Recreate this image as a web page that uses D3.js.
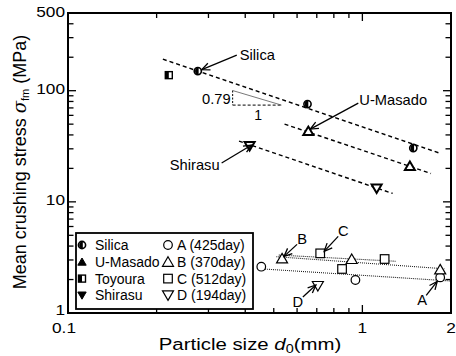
<!DOCTYPE html>
<html><head><meta charset="utf-8">
<script src="https://cdn.jsdelivr.net/npm/d3@7"></script>
<style>
body{margin:0;background:#fff}
svg{display:block}
text{font-family:"Liberation Sans",Arial,sans-serif;fill:#000}
</style>
</head><body>
<svg id="chart" width="456" height="356"></svg>
<script>
// ---- particle crushing data (size in mm, mean crushing stress in MPa) ----
const silicaSize   = [0.276, 0.651, 1.489];
const silicaStress = [150, 75.8, 30.5];
const masadoSize   = [0.655, 1.45];
const masadoStress = [43.3, 21.0];
const toyouraSize   = [0.22];
const toyouraStress = [138];
const shirasuSize   = [0.414, 1.118];
const shirasuStress = [31.8, 13.2];

// weathered samples A-D
const aSize = [0.4535, 0.947, 1.838];
const aStress = [2.61, 1.98, 2.09];
const bSize = [0.5335, 0.920, 1.838];
const bStress = [3.10, 3.06, 2.47];
const cSize = [0.719, 1.19, 0.853];
const cStress = [3.44, 3.06, 2.49];
const dSize = [0.706];
const dStress = [1.75];

// trend lines: [x0, y0, x1, y1]
const silicaFit  = [0.21, 192, 1.824, 27.5];
const masadoFit  = [0.544, 50.1, 1.71, 18.0];
const shirasuFit = [0.381, 35.2, 1.267, 11.9];
const aFit = [0.46, 2.49, 2.0, 1.94];
const bFit = [0.51, 3.21, 1.9, 2.5];
const cFit = [0.52, 3.32, 1.30, 2.92];

// slope triangle (exponent 0.79)
const slopeX = [0.3625, 0.531];
const slopeBaseY = 74.2;
const slopeExp = 0.79;

// axis ticks
const xMajor = [0.1, 1, 2];
const xMajorLabels = ["0.1", "1", "2"];
const xMinor = [0.2, 0.3, 0.4, 0.5, 0.6, 0.7, 0.8, 0.9];
const yMajor = [1, 10, 100, 500];
const yMajorLabels = ["1", "10", "100", "500"];
const yMinor = [2,3,4,5,6,7,8,9,20,30,40,50,60,70,80,90,200,300,400];

// legend entries
const legendLeft  = ["Silica", "U-Masado", "Toyoura", "Shirasu"];
const legendRight = ["A (425day)", "B (370day)", "C (512day)", "D (194day)"];

const svg = d3.select("#chart");
const L = 68, R = 451, T = 13, B = 313;
const x = d3.scaleLog().domain([0.1, 2]).range([L, R]);
const y = d3.scaleLog().domain([1, 500]).range([B, T]);

const TXS = 1.15; // horizontal stretch of the tick/label lettering

function label(g, px, py, str, size, anchor, sx) {
  return g.append("text")
    .attr("transform", `translate(${px},${py}) scale(${sx || 1},1)`)
    .attr("text-anchor", anchor || "start")
    .attr("dominant-baseline", "central")
    .style("font-size", size + "px")
    .text(str);
}

// ---- markers ----
function marker(g, type, cx, cy) {
  const m = g.append("g").attr("transform", `translate(${cx},${cy})`);
  if (type === "halfCircle") {
    m.append("circle").attr("r", 3.6).attr("fill", "#fff").attr("stroke", "#000").attr("stroke-width", 1.6);
    m.append("path").attr("d", "M0.8,-3.6 A3.6,3.6 0 1 0 0.8,3.6 Z").attr("fill", "#000");
  } else if (type === "halfSquare") {
    m.append("rect").attr("x", -3.5).attr("y", -3.5).attr("width", 7).attr("height", 7)
      .attr("fill", "#fff").attr("stroke", "#000").attr("stroke-width", 1.4);
    m.append("rect").attr("x", -3.5).attr("y", -3.5).attr("width", 3.5).attr("height", 7).attr("fill", "#000");
  } else if (type === "triBold") {
    m.append("path").attr("d", "M0,-4.5 L5,4 L-5,4 Z").attr("fill", "#fff").attr("stroke", "#000").attr("stroke-width", 2);
  } else if (type === "triDownBold") {
    m.append("path").attr("d", "M0,4.5 L5,-4 L-5,-4 Z").attr("fill", "#fff").attr("stroke", "#000").attr("stroke-width", 2);
  } else if (type === "triFilled") {
    m.append("path").attr("d", "M0,-3.8 L4.2,3.4 L-4.2,3.4 Z").attr("fill", "#000").attr("stroke", "#000").attr("stroke-width", 1);
  } else if (type === "triDownFilled") {
    m.append("path").attr("d", "M0,3.8 L4.2,-3.4 L-4.2,-3.4 Z").attr("fill", "#000").attr("stroke", "#000").attr("stroke-width", 1);
  } else if (type === "circle") {
    m.append("circle").attr("r", 4.3).attr("fill", "#fff").attr("stroke", "#000").attr("stroke-width", 1.2);
  } else if (type === "square") {
    m.append("rect").attr("x", -4.3).attr("y", -4.3).attr("width", 8.6).attr("height", 8.6)
      .attr("fill", "#fff").attr("stroke", "#000").attr("stroke-width", 1.2);
  } else if (type === "tri") {
    m.append("path").attr("d", "M0,-5 L5.5,4.5 L-5.5,4.5 Z").attr("fill", "#fff").attr("stroke", "#000").attr("stroke-width", 1.2);
  } else if (type === "triDown") {
    m.append("path").attr("d", "M0,5 L5.5,-4.5 L-5.5,-4.5 Z").attr("fill", "#fff").attr("stroke", "#000").attr("stroke-width", 1.2);
  }
}

// ---- trend lines ----
const lines = svg.append("g");
function fitLine(f, dash, w, col) {
  lines.append("line")
    .attr("x1", x(f[0])).attr("y1", y(f[1])).attr("x2", x(f[2])).attr("y2", y(f[3]))
    .attr("stroke", col || "#000").attr("stroke-width", w).attr("stroke-dasharray", dash);
}
fitLine(silicaFit, "4,3", 1.4);
fitLine(masadoFit, "4,3", 1.4);
fitLine(shirasuFit, "4,3", 1.4);
fitLine(aFit, "1,1", 1.1, "#222");
fitLine(bFit, "1,1", 1.1, "#222");
fitLine(cFit, "1,1", 1.1, "#222");

// slope triangle
const sx0 = x(slopeX[0]), sx1 = x(slopeX[1]);
const sTopY = slopeBaseY * Math.pow(slopeX[1] / slopeX[0], slopeExp);
const sy0 = y(slopeBaseY), sy1 = y(sTopY);
lines.append("line").attr("x1", sx0).attr("y1", sy1).attr("x2", sx0).attr("y2", sy0)
  .attr("stroke", "#000").attr("stroke-width", 1).attr("stroke-dasharray", "2,1.5");
lines.append("line").attr("x1", sx0).attr("y1", sy0).attr("x2", sx1).attr("y2", sy0)
  .attr("stroke", "#000").attr("stroke-width", 1).attr("stroke-dasharray", "3,2");
lines.append("line").attr("x1", sx0).attr("y1", sy1).attr("x2", sx1).attr("y2", sy0)
  .attr("stroke", "#555").attr("stroke-width", 0.8);
label(svg, sx0 - 2, (sy0 + sy1) / 2 + 1, slopeExp.toFixed(2), 14, "end", 1.05);
label(svg, (sx0 + sx1) / 2 + 1, sy0 + 10, "1", 14, "middle");

// ---- data points ----
const pts = svg.append("g");
function series(xs, ys, type) { xs.forEach((v, i) => marker(pts, type, x(v), y(ys[i]))); }
series(silicaSize, silicaStress, "halfCircle");
series(masadoSize, masadoStress, "triBold");
series(toyouraSize, toyouraStress, "halfSquare");
series(shirasuSize, shirasuStress, "triDownBold");
series(aSize, aStress, "circle");
series(bSize, bStress, "tri");
series(cSize, cStress, "square");
series(dSize, dStress, "triDown");

// ---- annotations with open arrowheads ----
svg.append("defs").append("marker")
  .attr("id", "ah").attr("viewBox", "-10 -6 12 12").attr("refX", 0).attr("refY", 0)
  .attr("markerWidth", 12).attr("markerHeight", 12).attr("markerUnits", "userSpaceOnUse")
  .attr("orient", "auto")
  .append("path").attr("d", "M-8,-3.5 L0,0 L-8,3.5").attr("fill", "none")
  .attr("stroke", "#000").attr("stroke-width", 1.3);

const ann = svg.append("g");
// point (data), tip offset, tail offset, label offset, text, anchor
function annotate(px, py, tip, tail, lab, str, anchor) {
  const cx = x(px), cy = y(py);
  ann.append("line")
    .attr("x1", cx + tail[0]).attr("y1", cy + tail[1])
    .attr("x2", cx + tip[0]).attr("y2", cy + tip[1])
    .attr("stroke", "#000").attr("stroke-width", 1.3).attr("marker-end", "url(#ah)");
  label(ann, cx + lab[0], cy + lab[1], str, 14, anchor, 1.05);
}
annotate(silicaSize[0], silicaStress[0], [4, -1.5], [39, -16], [42, -16], "Silica", "start");
annotate(masadoSize[0], masadoStress[0], [2, -2], [50, -28], [51, -31], "U-Masado", "start");
annotate(shirasuSize[0], shirasuStress[0], [2, -1], [-28, 17], [-30, 19], "Shirasu", "end");
annotate(bSize[0], bStress[0], [2, -2], [15, -14], [20, -19], "B", "middle");
annotate(cSize[0], cStress[0], [4, -2], [18, -17], [23, -22], "C", "middle");
annotate(dSize[0], dStress[0], [-2, -1], [-15, 11], [-20, 16], "D", "middle");
annotate(aSize[2], aStress[2], [-3, 4], [-14, 18], [-18, 23], "A", "middle");

// ---- frame and ticks (inward) ----
const ax = svg.append("g").attr("stroke", "#000");
ax.append("rect").attr("x", L).attr("y", T).attr("width", R - L).attr("height", B - T)
  .attr("fill", "none").attr("stroke-width", 2);
xMajor.concat(xMinor).forEach(v => {
  const len = (v === 0.1 || v === 1) ? 8 : 5;
  ax.append("line").attr("x1", x(v)).attr("x2", x(v)).attr("y1", B).attr("y2", B - len).attr("stroke-width", 1.3);
  ax.append("line").attr("x1", x(v)).attr("x2", x(v)).attr("y1", T).attr("y2", T + len).attr("stroke-width", 1.3);
});
yMajor.concat(yMinor).forEach(v => {
  const len = (v === 1 || v === 10 || v === 100) ? 8 : 5.5;
  ax.append("line").attr("y1", y(v)).attr("y2", y(v)).attr("x1", L).attr("x2", L + len).attr("stroke-width", 1.3);
  ax.append("line").attr("y1", y(v)).attr("y2", y(v)).attr("x1", R).attr("x2", R - len).attr("stroke-width", 1.3);
});

// tick labels
const tl = svg.append("g");
xMajor.forEach((v, i) => label(tl, x(v) - (i === 0 ? 4 : 0), B + 14, xMajorLabels[i], 15, "middle", TXS));
yMajor.forEach((v, i) => label(tl, L - 3, y(v) - (i === 0 ? 4 : 2), yMajorLabels[i], 15, "end", TXS));

// axis titles
const xt = svg.append("text")
  .attr("transform", `translate(250,350) scale(1.2,1)`)
  .attr("text-anchor", "middle").style("font-size", "17px");
xt.append("tspan").text("Particle size ");
xt.append("tspan").style("font-style", "italic").text("d");
xt.append("tspan").style("font-size", "12px").attr("dy", 3).text("0");
xt.append("tspan").attr("dy", -3).text("(mm)");

const yt = svg.append("text")
  .attr("transform", "translate(26,162) rotate(-90)")
  .attr("text-anchor", "middle").style("font-size", "18px");
yt.append("tspan").text("Mean crushing stress  ");
yt.append("tspan").style("font-style", "italic").style("font-family", "'DejaVu Serif',serif").text("σ");
yt.append("tspan").style("font-size", "11px").attr("dy", 3).text("fm");
yt.append("tspan").attr("dy", -3).text(" (MPa)");

// ---- legend ----
const lg = svg.append("g");
lg.append("rect").attr("x", 76).attr("y", 233).attr("width", 177).attr("height", 76)
  .attr("fill", "#fff").attr("stroke", "#000").attr("stroke-width", 1.8);
const leftTypes = ["halfCircle", "triFilled", "halfSquare", "triDownFilled"];
const rightTypes = ["circle", "tri", "square", "triDown"];
legendLeft.forEach((t, i) => {
  const ry = 245 + i * 16.8;
  marker(lg, leftTypes[i], 82, ry);
  label(lg, 95, ry, t, 14, "start");
});
legendRight.forEach((t, i) => {
  const ry = 245 + i * 16.8;
  marker(lg, rightTypes[i], 168, ry);
  label(lg, 177, ry, t, 14, "start");
});
</script>
</body></html>
